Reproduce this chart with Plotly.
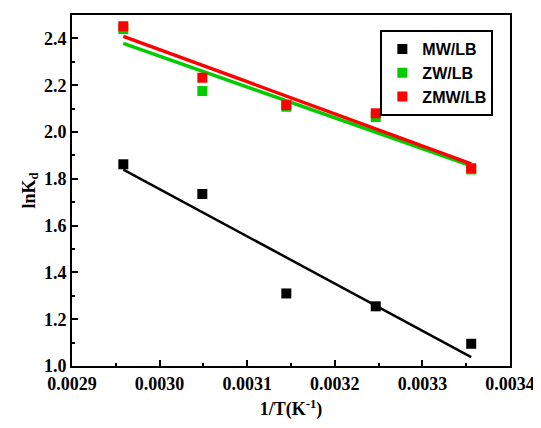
import numpy as np
import plotly.graph_objects as go

# Data
inv_T = [1/338, 1/328, 1/318, 1/308, 1/298]
mw_lb = [1.862, 1.735, 1.310, 1.255, 1.095]
zw_lb = [2.440, 2.175, 2.108, 2.064, 1.840]
zmw_lb = [2.452, 2.232, 2.115, 2.080, 1.845]

series = [
    ("MW/LB", mw_lb, "#000000", 2.5),
    ("ZW/LB", zw_lb, "#00cc00", 3.5),
    ("ZMW/LB", zmw_lb, "#ff0000", 3.5),
]

x_ticks = [0.0029, 0.0030, 0.0031, 0.0032, 0.0033, 0.0034]
x_ticktext = ["<b>0.0029</b>", "<b>0.0030</b>", "<b>0.0031</b>", "<b>0.0032</b>", "<b>0.0033</b>", "<b>0.0034</b>"]
y_ticks = [1.0, 1.2, 1.4, 1.6, 1.8, 2.0, 2.2, 2.4]
y_ticktext = ["<b>1.0</b>", "<b>1.2</b>", "<b>1.4</b>", "<b>1.6</b>", "<b>1.8</b>", "<b>2.0</b>", "<b>2.2</b>", "<b>2.4</b>"]

fig = go.Figure()
xa = np.array(inv_T)
# fit lines
for name, ys, color, lw in series:
    k, b = np.polyfit(xa, np.array(ys), 1)
    xs = [xa.min(), xa.max()]
    fig.add_trace(go.Scatter(x=xs, y=[k*v+b for v in xs], mode="lines",
                             line=dict(color=color, width=lw), showlegend=False,
                             hoverinfo="skip"))
# points
for name, ys, color, lw in series:
    fig.add_trace(go.Scatter(x=inv_T, y=ys, mode="markers", name="<b>" + name + "</b>",
                             marker=dict(symbol="square", size=10, color=color)))

axis_common = dict(showline=True, linecolor="black", linewidth=2, mirror=True,
                   ticks="inside", ticklen=6, tickwidth=2, tickcolor="black",
                   showgrid=False, zeroline=False,
                   tickfont=dict(family="Liberation Serif", size=18, color="black"),
                   minor=dict(ticks="inside", ticklen=3, tickwidth=2, tickcolor="black"))

fig.update_layout(
    width=533, height=420,
    margin=dict(l=64, r=31, t=5, b=62),
    plot_bgcolor="white", paper_bgcolor="white",
    xaxis=dict(range=[0.0029, 0.0034], tickvals=x_ticks, ticktext=x_ticktext,
               title=dict(text="<b>1/T(K<sup>-1</sup>)</b>", standoff=10,
                          font=dict(family="Liberation Serif", size=18, color="black")),
               **axis_common),
    yaxis=dict(range=[1.0, 2.5], tickvals=y_ticks, ticktext=y_ticktext,
               title=dict(text="<b>lnK<sub>d</sub></b>", standoff=4,
                          font=dict(family="Liberation Serif", size=18, color="black")),
               **axis_common),
    legend=dict(x=0.704, y=0.957, xanchor="left", yanchor="top",
                bordercolor="black", borderwidth=2, bgcolor="white",
                font=dict(family="Liberation Sans", size=16, color="black"),
                itemwidth=30, tracegroupgap=0),
    showlegend=True,
)
fig.update_xaxes(minor=dict(tickvals=[0.00295, 0.00305, 0.00315, 0.00325, 0.00335]))
fig.update_yaxes(minor=dict(tickvals=[1.1, 1.3, 1.5, 1.7, 1.9, 2.1, 2.3]))

fig.write_html("out.html")
